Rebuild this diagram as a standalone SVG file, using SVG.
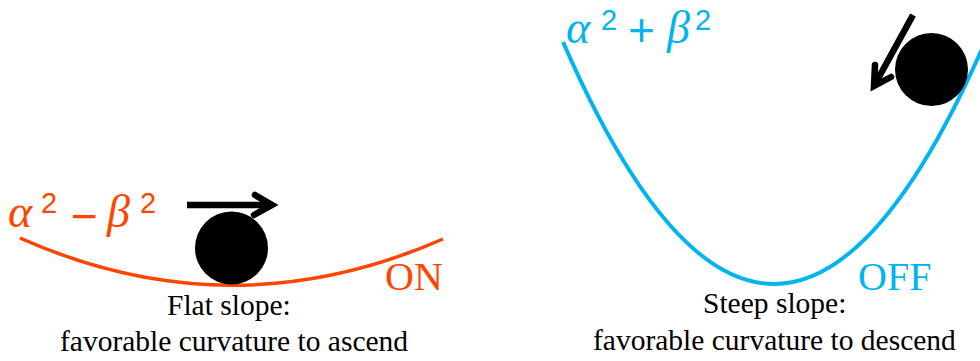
<svg xmlns="http://www.w3.org/2000/svg" width="980" height="361" viewBox="0 0 980 361">
<style>
.lbl{font-family:"Liberation Serif","Times New Roman",serif;font-size:29.5px;fill:#000}
.st{font-family:"Liberation Serif","Times New Roman",serif;font-size:40px}
.gr{font-family:"Liberation Serif","Times New Roman",serif;font-style:italic;font-size:46px}
.sup{font-family:"Liberation Sans",Arial,sans-serif;font-size:29px}
.op{font-family:"Liberation Sans",Arial,sans-serif;font-size:46px}
.or{fill:#FF4500}
.cy{fill:#00B4F0}
.arrow{fill:none;stroke:#000;stroke-width:6.5}
</style>
<rect width="980" height="361" fill="#fff"/>
<g id="left-panel">
  <g id="left-curve"><path d="M20,238 Q231,332 443,239" fill="none" stroke="#FF4500" stroke-width="3.5"/></g>
  <g id="left-ball"><circle cx="231.5" cy="248" r="36.5" fill="#000"/></g>
  <g id="left-formula">
    <text class="gr or" x="8" y="227">α</text>
    <text class="sup or" x="41" y="213">2</text>
    <text class="op or" x="71" y="232">−</text>
    <text class="gr or" x="107" y="227">β</text>
    <text class="sup or" x="140" y="213">2</text>
  </g>
  <g id="left-state"><text class="st or" x="385" y="290">ON</text></g>
  <g id="left-caption">
    <text class="lbl" x="167" y="315">Flat slope:</text>
    <text class="lbl" x="60" y="351">favorable curvature to ascend</text>
  </g>
</g>
<g id="right-panel">
  <g id="right-curve"><path d="M563,42 Q774,526 985,42" fill="none" stroke="#00B4F0" stroke-width="4"/></g>
  <g id="right-ball"><circle cx="931.5" cy="69.5" r="36.5" fill="#000"/></g>
  <g id="right-formula">
    <text class="gr cy" x="566" y="43">α</text>
    <text class="sup cy" x="601" y="30">2</text>
    <text class="op cy" x="628" y="46">+</text>
    <text class="gr cy" x="667" y="43">β</text>
    <text class="sup cy" x="695" y="30">2</text>
  </g>
  <g id="right-state"><text class="st cy" x="858" y="290">OFF</text></g>
  <g id="right-caption">
    <text class="lbl" x="703" y="313">Steep slope:</text>
    <text class="lbl" x="593" y="350">favorable curvature to descend</text>
  </g>
</g>
<g id="connectors">
  <path class="arrow" d="M187,205 H272"/>
  <polyline class="arrow" points="255,195 272,205 254,215" stroke-linecap="round"/>
  <path class="arrow" d="M913,15 L874,86"/>
  <polyline class="arrow" points="875,65 874,86 891,77" stroke-linecap="round"/>
</g>
</svg>
